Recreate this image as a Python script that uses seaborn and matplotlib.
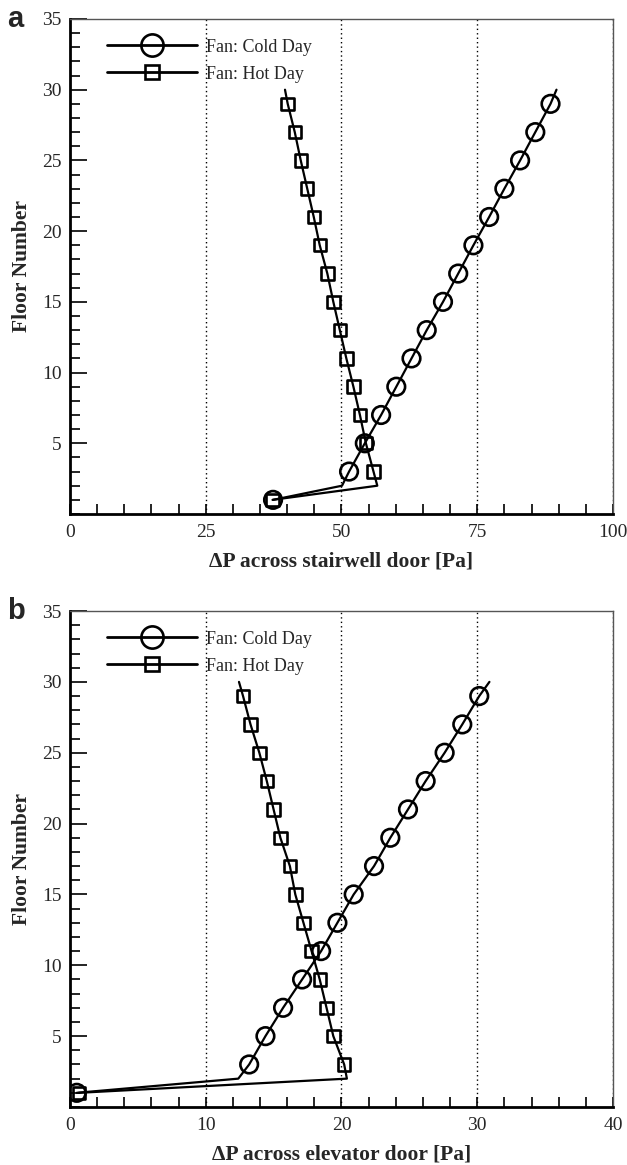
import matplotlib
matplotlib.use("Agg")
import matplotlib.pyplot as plt
from matplotlib.lines import Line2D
from matplotlib.ticker import MultipleLocator
import seaborn as sns
import pandas as pd

# Floors carrying markers (odd floors) and the full line path (adds floor 2 and 30)
marker_floors = [1, 3, 5, 7, 9, 11, 13, 15, 17, 19, 21, 23, 25, 27, 29]
line_floors = [1, 2, 3, 5, 7, 9, 11, 13, 15, 17, 19, 21, 23, 25, 27, 29, 30]

# (a) pressure difference across stairwell door [Pa]
stair_cold_marks = [37.4, 51.4, 54.3, 57.3, 60.1, 62.9, 65.7, 68.7, 71.5, 74.3, 77.2, 80.0, 82.9, 85.7, 88.5]
stair_cold_line = [37.4, 50.1, 51.4, 54.3, 57.3, 60.1, 62.9, 65.7, 68.7, 71.5, 74.3, 77.2, 80.0, 82.9, 85.7, 88.5, 89.6]
stair_hot_marks = [37.3, 55.9, 54.5, 53.4, 52.2, 50.9, 49.7, 48.5, 47.4, 46.0, 44.9, 43.7, 42.5, 41.4, 40.1]
stair_hot_line = [37.3, 56.6, 55.9, 54.5, 53.4, 52.2, 50.9, 49.7, 48.5, 47.4, 46.0, 44.9, 43.7, 42.5, 41.4, 40.1, 39.6]

# (b) pressure difference across elevator door [Pa]
elev_cold_marks = [0.5, 13.2, 14.4, 15.7, 17.1, 18.5, 19.7, 20.9, 22.4, 23.6, 24.9, 26.2, 27.6, 28.9, 30.15]
elev_cold_line = [0.5, 12.4, 13.2, 14.4, 15.7, 17.1, 18.5, 19.7, 20.9, 22.4, 23.6, 24.9, 26.2, 27.6, 28.9, 30.15, 30.9]
elev_hot_marks = [0.65, 20.2, 19.4, 18.9, 18.4, 17.8, 17.2, 16.6, 16.2, 15.5, 15.0, 14.5, 13.95, 13.3, 12.75]
elev_hot_line = [0.65, 20.4, 20.2, 19.4, 18.9, 18.4, 17.8, 17.2, 16.6, 16.2, 15.5, 15.0, 14.5, 13.95, 13.3, 12.75, 12.45]

series_labels = ["Fan: Cold Day", "Fan: Hot Day"]

sns.set_theme(style="white")
plt.rcParams["font.family"] = ["Liberation Serif", "DejaVu Serif"]

fig = plt.figure(figsize=(6.27, 11.65), dpi=100)
ax_a = fig.add_axes([0.1116, 0.5588, 0.866, 0.4249])
ax_b = fig.add_axes([0.1116, 0.0498, 0.866, 0.4257])

LW = 1.6
MEW = 1.9


def draw_panel(ax, cold_line, cold_marks, hot_line, hot_marks, xmax, xmajor, xminor, xlabel, tag):
    for vals in (cold_line, hot_line):
        df = pd.DataFrame({"dp": vals, "floor": line_floors})
        sns.lineplot(data=df, x="dp", y="floor", sort=False, estimator=None,
                     color="black", linewidth=LW, ax=ax, zorder=3)
    dfc = pd.DataFrame({"dp": cold_marks, "floor": marker_floors})
    sns.scatterplot(data=dfc, x="dp", y="floor", marker="o", s=160,
                    facecolor="none", edgecolor="black", linewidth=MEW, ax=ax, zorder=4)
    dfh = pd.DataFrame({"dp": hot_marks, "floor": marker_floors})
    sns.scatterplot(data=dfh, x="dp", y="floor", marker="s", s=80,
                    facecolor="none", edgecolor="black", linewidth=MEW, ax=ax, zorder=4)

    ax.set_xlim(0, xmax)
    ax.set_ylim(0, 35)
    ax.xaxis.set_major_locator(MultipleLocator(xmajor))
    ax.xaxis.set_minor_locator(MultipleLocator(xminor))
    ax.yaxis.set_major_locator(MultipleLocator(5))
    ax.yaxis.set_minor_locator(MultipleLocator(1))
    ax.set_yticks([5, 10, 15, 20, 25, 30, 35])
    ax.tick_params(axis="both", which="both", direction="in", color="black",
                   labelsize=14, bottom=True, left=True, top=False, right=False)
    ax.tick_params(axis="x", which="both", length=7, width=1.2, pad=7)
    ax.tick_params(axis="y", which="major", length=12, width=1.2, pad=6)
    ax.tick_params(axis="y", which="minor", length=7, width=1.2)

    for gx in range(xmajor, xmax + 1, xmajor):
        ax.axvline(gx, color="black", linestyle=(0, (1, 2.2)), linewidth=1.0, zorder=1)

    for side in ("left", "bottom"):
        ax.spines[side].set_linewidth(2.0)
        ax.spines[side].set_color("black")
    for side in ("top", "right"):
        ax.spines[side].set_linewidth(1.0)
        ax.spines[side].set_color("#555555")

    ax.set_xlabel(xlabel, fontsize=15.5, fontweight="bold", labelpad=8)
    ax.set_ylabel("Floor Number", fontsize=15.5, fontweight="bold", labelpad=7)

    handles = [
        Line2D([], [], color="black", linewidth=LW + 0.4, marker="o", markersize=16,
               markerfacecolor="none", markeredgecolor="black", markeredgewidth=MEW),
        Line2D([], [], color="black", linewidth=LW + 0.4, marker="s", markersize=10,
               markerfacecolor="none", markeredgecolor="black", markeredgewidth=MEW),
    ]
    ax.legend(handles, series_labels, loc="upper left", bbox_to_anchor=(0.055, 0.975),
              frameon=False, fontsize=13, handlelength=5.0, handletextpad=0.5,
              labelspacing=0.55, borderaxespad=0.0)

    ax.text(-0.115, 1.0, tag, transform=ax.transAxes, fontsize=21, fontweight="bold",
            family="Liberation Sans", ha="left", va="center")


draw_panel(ax_a, stair_cold_line, stair_cold_marks, stair_hot_line, stair_hot_marks,
           100, 25, 5, "ΔP across stairwell door [Pa]", "a")
draw_panel(ax_b, elev_cold_line, elev_cold_marks, elev_hot_line, elev_hot_marks,
           40, 10, 2, "ΔP across elevator door [Pa]", "b")

fig.savefig("out.png", dpi=100)
